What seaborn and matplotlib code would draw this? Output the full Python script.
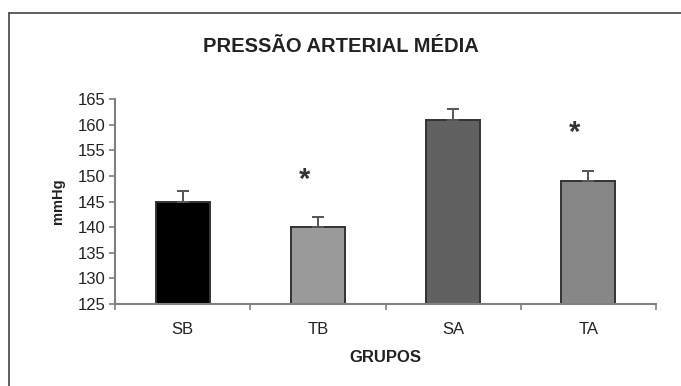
import matplotlib
matplotlib.use("Agg")
import matplotlib.pyplot as plt
from matplotlib.lines import Line2D
import seaborn as sns
import pandas as pd
import numpy as np

# Mean arterial pressure per group (mmHg) and standard error
grupos = ["SB", "TB", "SA", "TA"]
media = [145, 140, 161, 149]
erro = [2, 2, 2, 2]
cores = ["#000000", "#9a9a9a", "#616161", "#878787"]
signif = [False, True, False, True]

sns.set_theme(style="white")
plt.rcParams["font.family"] = ["Liberation Sans", "DejaVu Sans"]

df = pd.DataFrame({"grupo": grupos, "media": media})

fig = plt.figure(figsize=(6.81, 3.86), dpi=100)
ax = fig.add_axes([115 / 681, (386 - 304) / 386, 541 / 681, 205 / 386])

sns.barplot(data=df, x="grupo", y="media", hue="grupo", palette=cores,
            width=0.4, edgecolor="#333333", linewidth=1.4, legend=False,
            errorbar=None, ax=ax)

pos = np.arange(len(grupos))
ax.errorbar(pos, media, yerr=[np.zeros(len(erro)), erro], fmt="none",
            ecolor="#555555", elinewidth=1.4, capsize=4, capthick=1.4)

for i, s in enumerate(signif):
    if s:
        ax.text(i - 0.1, media[i] + erro[i] + 7.3, "*", ha="center",
                va="center", fontsize=21, fontweight="bold", color="#333333")

ax.set_ylim(125, 165)
ax.set_xlim(-0.5, len(grupos) - 0.5)
ax.set_yticks(np.arange(125, 166, 5))

# category boundaries carry the ticks, the centres carry the labels
ax.set_xticks(np.arange(-0.5, len(grupos), 1.0))
ax.set_xticklabels([])
ax.set_xticks(pos, minor=True)
ax.set_xticklabels(grupos, minor=True)
ax.tick_params(axis="x", which="major", direction="out", length=4,
               width=1.2, color="#808080", bottom=True)
ax.tick_params(axis="x", which="minor", length=0, pad=13, labelsize=12,
               labelcolor="#222222")
ax.tick_params(axis="y", direction="out", length=4, width=1.2,
               color="#808080", left=True, pad=3, labelsize=12,
               labelcolor="#222222")

for side in ["top", "right"]:
    ax.spines[side].set_visible(False)
for side in ["left", "bottom"]:
    ax.spines[side].set_color("#808080")
    ax.spines[side].set_linewidth(1.5)

ax.set_xlabel("GRUPOS", fontsize=12, fontweight="bold", labelpad=9,
              color="#222222")
ax.set_ylabel("mmHg", fontsize=10.5, fontweight="bold", labelpad=9,
              color="#222222")

fig.text(0.5, 1 - 47 / 386, "PRESSÃO ARTERIAL MÉDIA", ha="center",
         va="center", fontsize=14.5, fontweight="bold", color="#222222")

# outer frame: top and left edges
fig.add_artist(Line2D([9 / 681, 1.0], [1 - 13 / 386, 1 - 13 / 386],
                      transform=fig.transFigure, color="#444444", lw=1.2))
fig.add_artist(Line2D([9 / 681, 9 / 681], [0.0, 1 - 13 / 386],
                      transform=fig.transFigure, color="#444444", lw=1.2))

fig.savefig("out.png", dpi=100, facecolor="white")
